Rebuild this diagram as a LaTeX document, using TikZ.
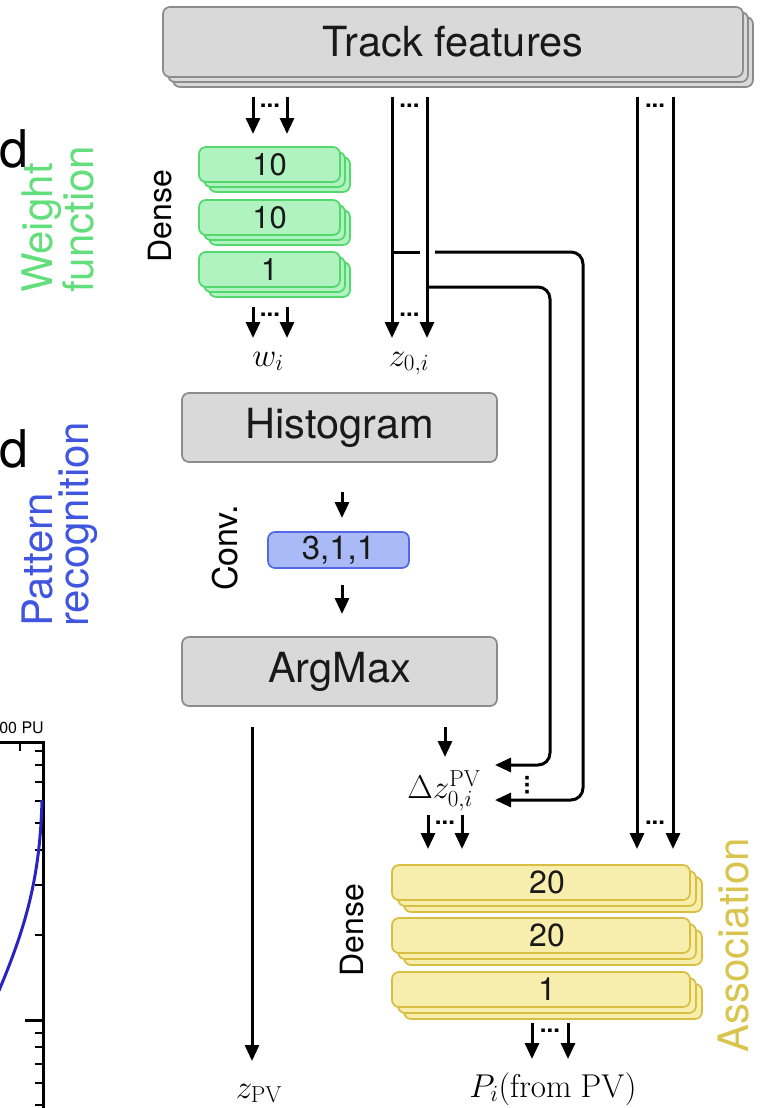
\RequirePackage{fix-cm}
\documentclass[tikz,border=0pt]{standalone}
\usepackage[no-math]{fontspec}
\setmainfont{TeX Gyre Heros}
\usetikzlibrary{arrows.meta,backgrounds}

\definecolor{boxgray}{HTML}{D9D9D9}
\definecolor{edgegray}{HTML}{8C8C8C}
\definecolor{wfill}{HTML}{B0F2C0}
\definecolor{wedge}{HTML}{52D86C}
\definecolor{wtext}{HTML}{62DF7C}
\definecolor{pfill}{HTML}{AABAF6}
\definecolor{pedge}{HTML}{5569E6}
\definecolor{ptext}{HTML}{4156E0}
\definecolor{afill}{HTML}{F7EDAC}
\definecolor{aedge}{HTML}{D8BF42}
\definecolor{atext}{HTML}{D9C44E}
\definecolor{curveblue}{HTML}{2B22C4}

\newcommand\fsz[2]{\fontsize{#1}{#2}\selectfont}

% two copies of a node's outline, shifted down and right, drawn behind it
\newcommand\stacklayers[3]{%
  \begin{scope}[on background layer]
    \foreach \k in {2,1}{
      \path[#2] ([shift={(\k*#3,\k*#3)}]#1.north west)
        rectangle ([shift={(\k*#3,\k*#3)}]#1.south east);
    }
  \end{scope}}

\begin{document}
\begin{tikzpicture}[x=1pt,y=-1pt,
  box/.style={rectangle,rounded corners=7pt,line width=1.7pt,inner sep=0pt,outer sep=0pt,text=black!90},
  graybox/.style={box,draw=edgegray,fill=boxgray,font=\fsz{41.5}{41.5}},
  graylayer/.style={draw=edgegray,fill=boxgray,line width=1.7pt,rounded corners=7pt},
  wbox/.style={box,draw=wedge,fill=wfill,font=\fsz{31}{31},minimum width=141pt,minimum height=35pt},
  wlayer/.style={draw=wedge,fill=wfill,line width=1.7pt,rounded corners=7pt},
  pbox/.style={box,draw=pedge,fill=pfill,font=\fsz{33}{33},minimum width=141pt,minimum height=36pt},
  abox/.style={box,draw=aedge,fill=afill,font=\fsz{32}{32},minimum width=298pt,minimum height=35pt},
  alayer/.style={draw=aedge,fill=afill,line width=1.7pt,rounded corners=7pt},
  flow/.style={line width=3pt,-{Triangle[length=16pt,width=14pt]}},
  wire/.style={line width=3pt,rounded corners=12pt},
  ell/.style={inner sep=0pt,font=\fsz{24}{24}\bfseries},
  mlabel/.style={inner sep=0pt,font=\fsz{33}{33}},
  side/.style={rotate=90,inner sep=0pt,align=left,font=\fsz{42}{36}},
  tag/.style={rotate=90,inner sep=0pt,font=\fsz{32}{32}},
]
\useasboundingbox (0,0) rectangle (771,1108);
\clip (0,0) rectangle (771,1108);

% ---- neighbouring panel (cut off at the left edge)
\node[inner sep=0pt,anchor=base east,font=\fsz{52}{52}] (lw1) at (29,167) {d};
\node[inner sep=0pt,anchor=base east,font=\fsz{52}{52}] (lw2) at (29,467) {d};
\node[inner sep=0pt,anchor=base east,font=\fsz{16}{16}] (pu) at (44,733) {00 PU};
\draw[line width=3pt] (-5,742) -- (43,742) -- (43,1115);
\draw[line width=2.6pt] (20,742) -- (20,751);
\foreach \t in {751,765,782,801,823,850,885,935,1033,1047,1064,1083,1105}
  \draw[line width=2.6pt] (35,\t) -- (43,\t);
\draw[line width=3pt] (25,1020) -- (43,1020);
\draw[curveblue,line width=3pt] (-5,1000) .. controls (25,930) and (40,880) .. (42,800);

% ---- blocks
\node[graybox,minimum width=580pt,minimum height=70pt] (feat) at (453,42) {Track features};
\stacklayers{feat}{graylayer}{5}

\node[wbox] (w1) at (269.5,164.5) {10};
\node[wbox] (w2) at (269.5,217.5) {10};
\node[wbox] (w3) at (269.5,269.5) {1};
\stacklayers{w1}{wlayer}{5}
\stacklayers{w2}{wlayer}{5}
\stacklayers{w3}{wlayer}{5}

\node[graybox,minimum width=315pt,minimum height=69pt] (hist) at (339.5,427.5) {Histogram};
\node[pbox] (conv) at (338.5,550) {3,1,1};
\node[graybox,minimum width=315pt,minimum height=69pt] (amax) at (339.5,671.5) {ArgMax};

\node[abox] (a1) at (541,882.5) {\hspace*{12pt}20};
\node[abox] (a2) at (541,935.5) {\hspace*{12pt}20};
\node[abox] (a3) at (541,989.5) {\hspace*{12pt}1};
\stacklayers{a1}{alayer}{6}
\stacklayers{a2}{alayer}{6}
\stacklayers{a3}{alayer}{6}

% ---- side titles and layer tags
\node[side,text=wtext,anchor=north west] (tw) at (22,293) {Weight\\function};
\node[side,text=ptext,anchor=north west] (tp) at (22,627) {Pattern\\recognition};
\node[side,text=atext,anchor=base west] (ta) at (748,1053) {Association};
\node[tag] (dense1) at (160,216) {Dense};
\node[tag,font=\fsz{34}{34}] (convtag) at (225,548) {Conv.};
\node[tag] (dense2) at (352,930) {Dense};

% ---- connector end points
\coordinate (fw1) at (253,97);   \coordinate (tw1) at (253,134);
\coordinate (fw2) at (287,97);   \coordinate (tw2) at (287,134);
\coordinate (ow1) at (253,307);  \coordinate (ew1) at (253,338);
\coordinate (ow2) at (287,307);  \coordinate (ew2) at (287,338);
\coordinate (fz1) at (392,97);   \coordinate (ez1) at (392,338);
\coordinate (fz2) at (427,97);   \coordinate (ez2) at (427,338);
\coordinate (fr1) at (637,97);   \coordinate (er1) at (637,849);
\coordinate (fr2) at (673,97);   \coordinate (er2) at (673,849);
\coordinate (hc1) at (342,492);  \coordinate (hc2) at (342,518);
\coordinate (ca1) at (342,585);  \coordinate (ca2) at (342,614);
\coordinate (ad1) at (445,727);  \coordinate (ad2) at (445,757);
\coordinate (zp1) at (252,727);  \coordinate (zp2) at (252,1061);
\coordinate (da1) at (428,815);  \coordinate (da2) at (428,849);
\coordinate (db1) at (462,815);  \coordinate (db2) at (462,849);
\coordinate (pa1) at (532,1023); \coordinate (pa2) at (532,1059);
\coordinate (pb1) at (568,1023); \coordinate (pb2) at (568,1059);
\coordinate (b1s) at (392,252);  \coordinate (b1g) at (420,252);
\coordinate (b1r) at (435,252);  \coordinate (b1c) at (583,800);
\coordinate (b1e) at (495,800);
\coordinate (b2s) at (427,287);  \coordinate (b2c) at (550,765);
\coordinate (b2e) at (495,765);

% ---- connectors
\draw[flow] (fw1) -- (tw1);  \draw[flow] (fw2) -- (tw2);
\draw[flow] (ow1) -- (ew1);  \draw[flow] (ow2) -- (ew2);
\draw[flow] (fz1) -- (ez1);  \draw[flow] (fz2) -- (ez2);
\draw[flow] (fr1) -- (er1);  \draw[flow] (fr2) -- (er2);
\draw[flow] (hc1) -- (hc2);
\draw[flow] (ca1) -- (ca2);
\draw[flow] (ad1) -- (ad2);
\draw[flow] (zp1) -- (zp2);
\draw[flow] (da1) -- (da2);  \draw[flow] (db1) -- (db2);
\draw[flow] (pa1) -- (pa2);  \draw[flow] (pb1) -- (pb2);
\draw[wire] (b1s) -- (b1g);
\draw[wire,flow] (b1r) -| (b1c) -- (b1e);
\draw[wire,flow] (b2s) -| (b2c) -- (b2e);

% ---- ellipses between parallel arrows
\node[ell] (d1) at (270,106) {...};
\node[ell] (d2) at (270,315) {...};
\node[ell] (d3) at (409.5,106) {...};
\node[ell] (d4) at (409.5,315) {...};
\node[ell] (d5) at (655,106) {...};
\node[ell] (d6) at (655,823) {...};
\node[ell] (d7) at (445,823) {...};
\node[ell] (d8) at (550,1031) {...};
\node[ell,rotate=90] (d9) at (527,785) {...};

% ---- variable labels
\node[mlabel,anchor=base] (lwi) at (268,366) {$w_i$};
\node[mlabel,anchor=base] (lzi) at (409,366) {$z_{0,i}$};
\node[mlabel,anchor=base] (ldz) at (444,798) {$\Delta z_{0,i}^{\mathrm{PV}}$};
\node[mlabel,anchor=base] (lzpv) at (259,1098) {$z_{\mathrm{PV}}$};
\node[mlabel,anchor=base] (lpi) at (553,1097) {$P_i(\mathrm{from\ PV})$};
\end{tikzpicture}
\end{document}
